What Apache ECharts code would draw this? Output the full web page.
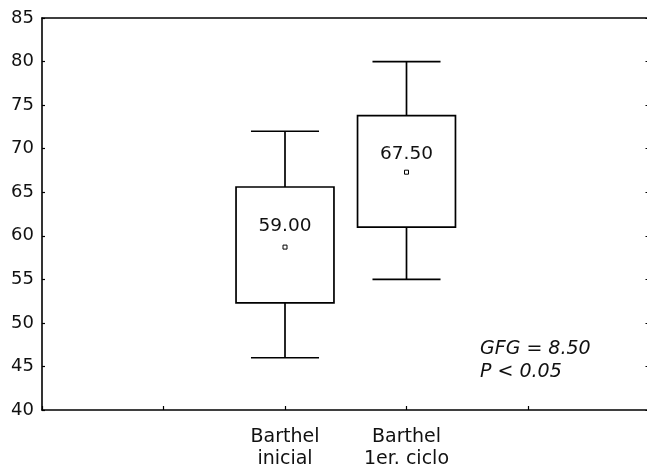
<!DOCTYPE html>
<html>
<head>
<meta charset="utf-8">
<script src="https://cdn.jsdelivr.net/npm/echarts@6/dist/echarts.min.js"></script>
<style>html,body{margin:0;padding:0;background:#fff;}#c{width:647px;height:466px;}</style>
</head>
<body>
<div id="c"></div>
<script>
const categories = ['Barthel\ninicial', 'Barthel\n1er. ciclo'];
const categoryPositions = [2, 3];
const whiskerLow = [46, 55];
const boxLow = [52.3, 61.0];
const boxHigh = [65.6, 73.8];
const whiskerHigh = [72, 80];
const meanPoint = [58.7, 67.3];
const boxLabels = ['59.00', '67.50'];
const yTicks = [40, 45, 50, 55, 60, 65, 70, 75, 80, 85];
const noteLines = ['GFG = 8.50', 'P < 0.05'];

const FONT = 'DejaVu Sans';
const chart = echarts.init(document.getElementById('c'), null, {renderer: 'canvas'});

const data = categories.map((c, i) => [categoryPositions[i], whiskerLow[i], boxLow[i], boxHigh[i], whiskerHigh[i], meanPoint[i]]);

const axisLineStyle = {color: '#000', width: 1.6};

chart.setOption({
  backgroundColor: '#fff',
  animation: false,
  grid: {left: 42, top: 18, width: 607.5, height: 392, containLabel: false, outerBoundsMode: 'none'},
  xAxis: [{
    type: 'value', min: 0, max: 5, interval: 1, position: 'bottom',
    axisLine: {show: true, onZero: false, lineStyle: axisLineStyle},
    axisTick: {show: true, inside: true, length: 4, lineStyle: {color: '#000', width: 1.2}},
    axisLabel: {
      show: true, margin: 16, color: '#111', fontFamily: FONT, fontSize: 19, lineHeight: 22,
      formatter: v => { const i = categoryPositions.indexOf(v); return i >= 0 ? categories[i] : ''; }
    },
    splitLine: {show: false}
  }, {
    type: 'value', min: 0, max: 5, interval: 1, position: 'top',
    axisLine: {show: true, onZero: false, lineStyle: axisLineStyle},
    axisTick: {show: false}, axisLabel: {show: false}, splitLine: {show: false}
  }],
  yAxis: [{
    type: 'value', min: yTicks[0], max: yTicks[yTicks.length - 1], interval: 5, position: 'left',
    axisLine: {show: true, onZero: false, lineStyle: axisLineStyle},
    axisTick: {show: true, inside: true, length: 3, lineStyle: {color: '#000', width: 1.2}},
    axisLabel: {show: true, margin: 8, color: '#111', fontFamily: FONT, fontSize: 18},
    splitLine: {show: false}
  }, {
    type: 'value', min: yTicks[0], max: yTicks[yTicks.length - 1], interval: 5, position: 'right',
    axisLine: {show: true, onZero: false, lineStyle: axisLineStyle},
    axisTick: {show: true, inside: true, length: 4, lineStyle: {color: '#000', width: 1.2}},
    axisLabel: {show: false}, splitLine: {show: false}
  }],
  series: [{
    type: 'custom',
    xAxisIndex: 0, yAxisIndex: 0,
    data: data,
    renderItem: function (params, api) {
      const x = api.value(0);
      const lo = api.coord([x, api.value(1)]);
      const q1 = api.coord([x, api.value(2)]);
      const q3 = api.coord([x, api.value(3)]);
      const hi = api.coord([x, api.value(4)]);
      const mn = api.coord([x, api.value(5)]);
      const unit = api.size([1, 0])[0];
      const bw = unit * 0.806, cw = unit * 0.56;
      const cx = lo[0];
      const ls = {stroke: '#000', lineWidth: 1.7, fill: null};
      return {
        type: 'group',
        children: [
          {type: 'line', shape: {x1: cx, y1: hi[1], x2: cx, y2: q3[1]}, style: ls},
          {type: 'line', shape: {x1: cx, y1: q1[1], x2: cx, y2: lo[1]}, style: ls},
          {type: 'line', shape: {x1: cx - cw / 2, y1: hi[1], x2: cx + cw / 2, y2: hi[1]}, style: ls},
          {type: 'line', shape: {x1: cx - cw / 2, y1: lo[1], x2: cx + cw / 2, y2: lo[1]}, style: ls},
          {type: 'rect', shape: {x: cx - bw / 2, y: q3[1], width: bw, height: q1[1] - q3[1]}, style: {stroke: '#000', lineWidth: 1.7, fill: '#fff'}},
          {type: 'rect', shape: {x: cx - 2, y: mn[1] - 2, width: 4, height: 4}, style: {stroke: '#000', lineWidth: 1, fill: '#fff'}},
          {type: 'text', x: cx, y: q3[1] + 39, style: {text: boxLabels[params.dataIndex], fill: '#111', font: '18.5px "DejaVu Sans"', textAlign: 'center', textVerticalAlign: 'middle'}}
        ]
      };
    }
  }],
  graphic: [{
    type: 'text', left: 480, top: 338,
    style: {text: noteLines.join('\n'), fill: '#111', font: 'italic 19px "DejaVu Sans"', lineHeight: 23}
  }]
});
</script>
</body>
</html>
